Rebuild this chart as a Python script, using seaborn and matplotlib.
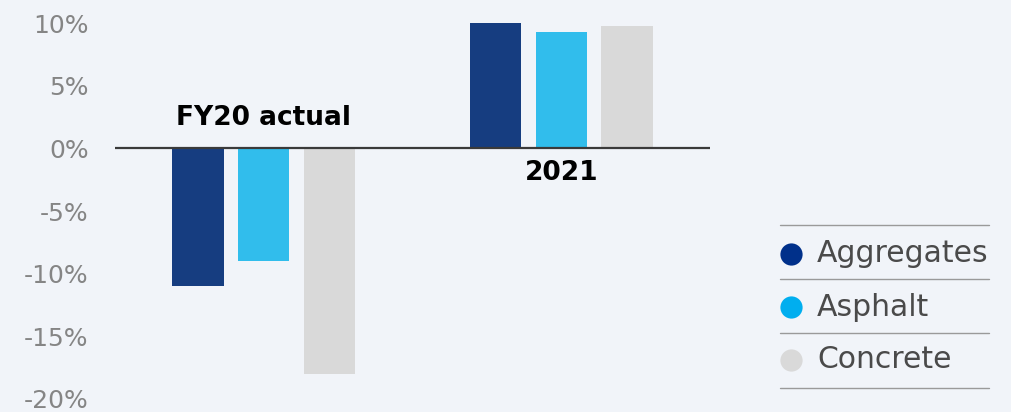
import matplotlib
matplotlib.use("Agg")
import matplotlib.pyplot as plt
from matplotlib.lines import Line2D
import pandas as pd
import seaborn as sns

# Volume growth by product line
periods = ["FY20 actual", "2021"]
materials = ["Aggregates", "Asphalt", "Concrete"]
aggregates = [-11.0, 10.1]
asphalt = [-9.0, 9.3]
concrete = [-18.0, 9.8]
yticks = [10, 5, 0, -5, -10, -15, -20]

bar_colors = ["#163D80", "#31BDEC", "#D9D9D9"]
dot_colors = ["#00308A", "#00AEEF", "#D9D9D9"]
bg = "#F1F4F9"

df = pd.DataFrame({
    "period": periods * 3,
    "material": [m for m in materials for _ in periods],
    "value": aggregates + asphalt + concrete,
})

sns.set_style("white", {"axes.facecolor": bg, "figure.facecolor": bg})
plt.rcParams["font.family"] = ["DejaVu Sans"]

fig = plt.figure(figsize=(10.12, 4.12), dpi=100)
ax = fig.add_axes([115 / 1012, 13 / 412, 595 / 1012, 376 / 412])
ax.set_facecolor(bg)

sns.barplot(data=df, x="period", y="value", hue="material",
            order=periods, hue_order=materials, palette=bar_colors,
            width=0.663, gap=0.22, legend=False, saturation=1,
            linewidth=0, ax=ax)

ax.set_ylim(-20, 10)
ax.set_xlim(-0.5, 1.5)
ax.axhline(0, color="#3A3A3A", lw=1.6, zorder=3)

ax.set_yticks(yticks)
ax.set_yticklabels([f"{v:d}%" for v in yticks], color="#858585", fontsize=18)
ax.tick_params(axis="y", length=0, pad=19)
ax.set_xticks([])
ax.set_xlabel("")
ax.set_ylabel("")
for s in ax.spines.values():
    s.set_visible(False)

# period labels: above the baseline for declines, below for gains
ax.text(0, 2.4, periods[0], ha="center", va="center", fontsize=19,
        fontweight="bold", color="black")
ax.text(1, -2.0, periods[1], ha="center", va="center", fontsize=19,
        fontweight="bold", color="black")

# legend with separator rules
W, H = 1012, 412
sep_y = [225, 279, 333, 388]
for y in sep_y:
    fig.add_artist(Line2D([780 / W, 989 / W], [1 - y / H, 1 - y / H],
                          color="#9A9A9A", lw=1.0))
for i, (name, c) in enumerate(zip(materials, dot_colors)):
    y = 1 - (254 + i * 53) / H
    fig.add_artist(Line2D([791 / W], [y], marker="o", markersize=16,
                          color=c, markeredgewidth=0, linestyle="none"))
    fig.text(817 / W, y, name, ha="left", va="center", fontsize=21.5,
             color="#4A4A4A")

fig.savefig("out.png", dpi=100, facecolor=bg)
